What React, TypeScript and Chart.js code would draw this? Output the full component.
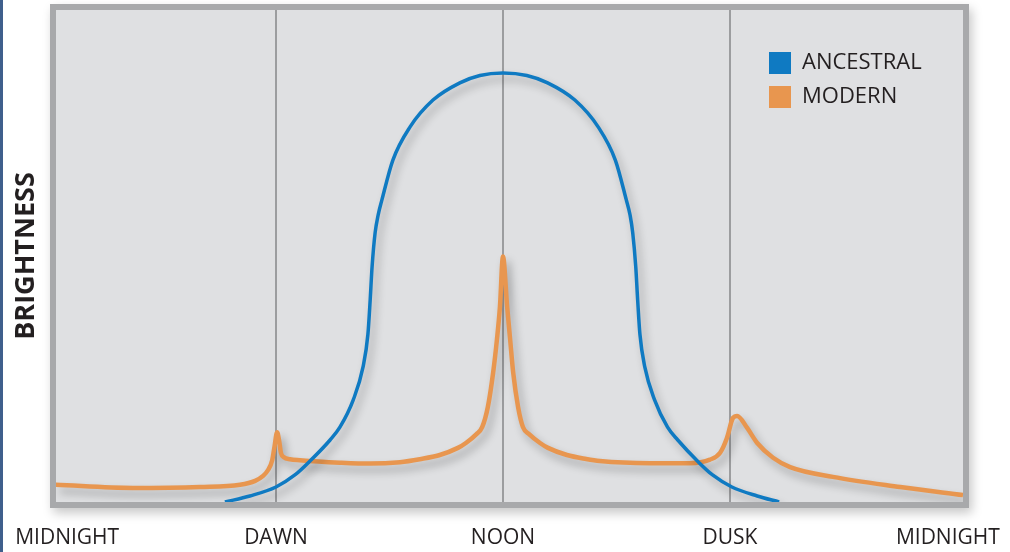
import React, { useEffect, useRef } from 'react';
import { Chart, registerables } from 'chart.js';

Chart.register(...registerables);

const tickHours = [0.48, 6, 12, 18, 23.76];
const tickLabels = ['MIDNIGHT', 'DAWN', 'NOON', 'DUSK', 'MIDNIGHT'];
const gridHours = [6, 12, 18];
const seriesNames = ['ANCESTRAL', 'MODERN'];

const ancestralHours = [4.65, 5.31, 6.0, 6.5, 6.9, 7.43, 7.69, 8.04, 8.3, 8.43, 8.49, 8.54, 8.62, 8.7, 8.8, 9.09, 9.54, 10.15, 10.86, 11.39, 12.0, 12.63, 13.18, 13.9, 14.52, 14.97, 15.26, 15.36, 15.43, 15.51, 15.56, 15.62, 15.75, 16.01, 16.35, 16.62, 17.14, 17.54, 18.05, 18.72, 19.3];
const ancestralValues = [0, 1.22, 3.05, 5.49, 8.33, 12.6, 15.2, 20.7, 27.4, 34.1, 41.1, 47.8, 54.7, 58.3, 61.4, 69.5, 76.2, 81.7, 85.2, 86.7, 87.2, 86.7, 85.2, 81.7, 76.2, 69.5, 61.4, 58.3, 54.7, 47.8, 41.1, 34.1, 27.4, 20.7, 15.2, 12.6, 8.33, 5.49, 3.05, 1.22, 0];

const modernHours = [0.18, 2.22, 3.99, 5.05, 5.45, 5.66, 5.79, 5.9, 5.96, 6.03, 6.08, 6.13, 6.21, 6.37, 6.63, 7.69, 8.5, 9.28, 9.8, 10.31, 10.81, 11.02, 11.3, 11.45, 11.6, 11.74, 11.84, 11.92, 12.0, 12.11, 12.19, 12.27, 12.4, 12.53, 12.69, 12.98, 13.19, 13.69, 14.2, 14.56, 15.89, 16.94, 17.47, 17.74, 17.92, 18.08, 18.19, 18.45, 18.72, 19.14, 19.59, 20.72, 22.5, 24.16];
const modernValues = [3.5, 2.85, 3.05, 3.5, 4.3, 5.3, 6.5, 8.5, 11.2, 14.2, 12.6, 10.0, 9.1, 8.7, 8.5, 8.0, 7.8, 8.1, 8.7, 9.5, 11.0, 12.0, 13.8, 15.2, 19.3, 26.3, 33.0, 39.7, 49.9, 39.7, 33.0, 26.3, 19.3, 15.2, 13.8, 12.0, 11.0, 9.55, 8.74, 8.33, 7.9, 7.9, 8.6, 10.0, 13.0, 17.1, 17.5, 15.1, 12.0, 9.0, 7.1, 5.1, 3.05, 1.4];

const seriesColors = ['#0f7ac2', '#e8964f'];

const framePlugin = {
  id: 'frame',
  beforeDraw(chart: any) {
    const { ctx, chartArea: a } = chart;
    ctx.save();
    ctx.shadowColor = 'rgba(0,0,0,0.22)';
    ctx.shadowBlur = 10;
    ctx.shadowOffsetX = 3;
    ctx.shadowOffsetY = 5;
    ctx.fillStyle = '#a8a9ab';
    ctx.fillRect(a.left - 6, a.top - 6, a.width + 12, a.height + 12);
    ctx.restore();
    ctx.save();
    ctx.fillStyle = '#dfe0e2';
    ctx.fillRect(a.left, a.top, a.width, a.height);
    ctx.restore();
  },
};

const legendPlace = {
  id: 'legendPlace',
  afterLayout(chart: any) {
    const lg = chart.legend;
    if (!lg) return;
    lg.left = chart.chartArea.left + 701;
    lg.top = chart.chartArea.top + 30;
  },
};

const shadowPlugin = {
  id: 'lineShadow',
  beforeDatasetsDraw(chart: any) {
    const ctx = chart.ctx;
    ctx.save();
    ctx.shadowColor = 'rgba(0,0,0,0.28)';
    ctx.shadowBlur = 9;
    ctx.shadowOffsetX = 4;
    ctx.shadowOffsetY = 6;
  },
  afterDatasetsDraw(chart: any) {
    chart.ctx.restore();
  },
};

export default function App() {
  const ref = useRef<HTMLCanvasElement | null>(null);

  useEffect(() => {
    document.body.style.margin = '0';
    if (!ref.current) return;
    const chart = new Chart(ref.current, {
      type: 'line',
      data: {
        datasets: [
          {
            label: seriesNames[0],
            data: ancestralHours.map((h, i) => ({ x: h, y: ancestralValues[i] })),
            borderColor: seriesColors[0],
            backgroundColor: seriesColors[0],
            borderWidth: 3.5,
            pointRadius: 0,
            cubicInterpolationMode: 'monotone',
            fill: false,
          },
          {
            label: seriesNames[1],
            data: modernHours.map((h, i) => ({ x: h, y: modernValues[i] })),
            borderColor: seriesColors[1],
            backgroundColor: seriesColors[1],
            borderWidth: 4.5,
            pointRadius: 0,
            cubicInterpolationMode: 'monotone',
            fill: false,
          },
        ],
      },
      options: {
        animation: false,
        responsive: true,
        maintainAspectRatio: false,
        layout: { padding: { left: 0, right: 47, top: 10, bottom: 0 } },
        plugins: {
          tooltip: { enabled: false },
          legend: {
            position: 'chartArea' as any,
            align: 'start',
            labels: {
              boxWidth: 22,
              boxHeight: 22,
              padding: 12,
              color: '#231f20',
              font: { family: 'Open Sans', size: 22 },
              generateLabels: (c: any) =>
                (Chart.defaults.plugins.legend.labels.generateLabels as any)(c).map((l: any) => ({
                  ...l,
                  lineWidth: 0,
                  fillStyle: l.strokeStyle,
                })),
            },
          },
        },
        scales: {
          x: {
            type: 'linear',
            min: 0.185,
            max: 24.16,
            afterBuildTicks: (scale: any) => {
              scale.ticks = tickHours.map((v) => ({ value: v }));
            },
            afterFit: (scale: any) => {
              scale.height = 50;
              scale.paddingLeft = 0;
              scale.paddingRight = 0;
            },
            ticks: {
              autoSkip: false,
              maxRotation: 0,
              padding: 23,
              color: '#231f20',
              font: { family: 'Open Sans', size: 21 },
              callback: (_v: any, i: number) => tickLabels[i],
            },
            grid: {
              drawTicks: false,
              lineWidth: 2,
              color: (ctx: any) =>
                ctx.tick && gridHours.includes(ctx.tick.value) ? '#9c9d9f' : 'rgba(0,0,0,0)',
            },
            border: { display: false },
          },
          y: {
            min: 0,
            max: 100,
            afterFit: (scale: any) => {
              scale.width = 56;
            },
            ticks: { display: false },
            grid: { display: false },
            border: { display: false },
            title: {
              display: true,
              text: 'BRIGHTNESS',
              color: '#231f20',
              font: { family: 'Open Sans', size: 27, weight: 'bold' },
              padding: { top: 10, bottom: 0 },
            },
          },
        },
      } as any,
      plugins: [framePlugin, legendPlace, shadowPlugin],
    });
    return () => chart.destroy();
  }, []);

  return (
    <div style={{ position: 'relative', width: 1010, height: 552, overflow: 'hidden', background: '#fff' }}>
      <canvas ref={ref} />
      <div style={{ position: 'absolute', left: 0, top: 0, width: 3, height: 552, background: '#3f5f8c' }} />
    </div>
  );
}
